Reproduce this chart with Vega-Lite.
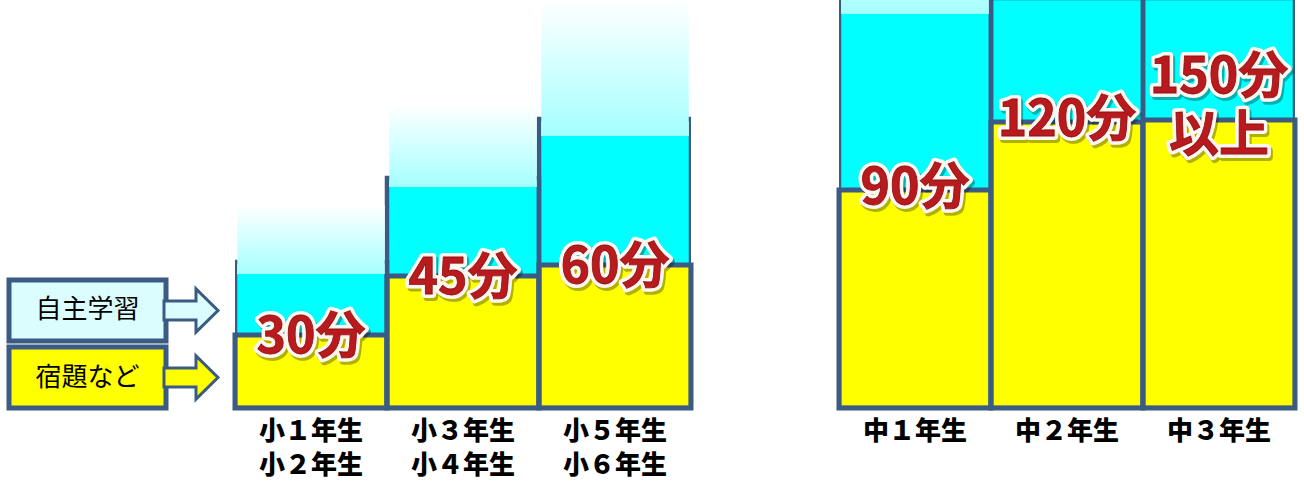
{
  "$schema": "https://vega.github.io/schema/vega-lite/v6.json",
  "padding": {"left": 6, "top": 0, "right": 0, "bottom": 0},
  "background": "#ffffff",
  "config": {"view": {"stroke": null}, "font": "Noto Sans CJK JP"},
  "datasets": {
    "bars": [
      {"group": "小学生", "grade": "小１年生\n小２年生", "homework": 73, "self": 134, "fadeTop": 203, "frameTop": 146, "label": "30分"},
      {"group": "小学生", "grade": "小３年生\n小４年生", "homework": 132, "self": 221, "fadeTop": 303, "frameTop": 230, "label": "45分"},
      {"group": "小学生", "grade": "小５年生\n小６年生", "homework": 143, "self": 272, "fadeTop": 408, "frameTop": 289, "label": "60分"},
      {"group": "中学生", "grade": "中１年生", "homework": 218, "self": 394, "fadeTop": 484, "frameTop": 410, "label": "90分"},
      {"group": "中学生", "grade": "中２年生", "homework": 286, "self": 410, "fadeTop": 410, "frameTop": 410, "label": "120分"},
      {"group": "中学生", "grade": "中３年生", "homework": 288, "self": 410, "fadeTop": 410, "frameTop": 410, "label": "150分\n以上"}
    ],
    "legend": [{"item": "自主学習"}, {"item": "宿題など"}]
  },
  "spacing": 69,
  "bounds": "flush",
  "resolve": {"scale": {"x": "independent", "y": "independent", "color": "independent"}},
  "hconcat": [
    {
      "width": 157,
      "height": 408,
      "data": {"name": "legend"},
      "encoding": {
        "y": {"field": "item", "type": "nominal", "sort": null, "scale": {"range": [280, 408], "paddingInner": 0.09, "paddingOuter": 0}, "axis": null}
      },
      "layer": [
        {
          "mark": {"type": "rect", "stroke": "#3b5b84", "strokeWidth": 5},
          "encoding": {"color": {"field": "item", "type": "nominal", "sort": null, "scale": {"domain": ["自主学習", "宿題など"], "range": ["#dcfdfd", "#ffff00"]}, "legend": null}}
        },
        {
          "mark": {"type": "point", "shape": "M-1,-0.35L0.185,-0.35L0.185,-0.8L1,0L0.185,0.8L0.185,0.35L-1,0.35Z", "size": 2916, "filled": true, "opacity": 1, "xOffset": 103.5, "stroke": "#3b5b84", "strokeWidth": 3},
          "encoding": {"color": {"field": "item", "type": "nominal", "sort": null, "scale": {"domain": ["自主学習", "宿題など"], "range": ["#eefefe", "#ffff00"]}, "legend": null}}
        },
        {
          "mark": {"type": "text", "fontSize": 26, "color": "#000000", "baseline": "middle", "font": "Noto Sans CJK JP"},
          "encoding": {"text": {"field": "item"}}
        }
      ]
    },
    {
      "spacing": 148,
      "bounds": "flush",
      "resolve": {"scale": {"x": "independent", "y": "independent"}},
      "hconcat": [
        {
          "width": 456,
          "height": 408,
          "data": {"name": "bars"},
          "transform": [{"filter": "datum.group === '小学生'"}],
          "encoding": {
            "x": {"field": "grade", "type": "nominal", "sort": null, "scale": {"paddingInner": 0, "paddingOuter": 0},
              "axis": {"title": null, "domain": false, "ticks": false, "tickSize": 0, "labelAngle": 0, "labelFontSize": 26, "labelFontWeight": 900, "labelColor": "#000000", "labelPadding": 10, "labelLineHeight": 34, "labelFont": "Noto Sans CJK JP", "labelExpr": "split(datum.label, '\\n')"}}
          },
          "layer": [
            {"mark": {"type": "bar", "fill": "#00ffff"}, "encoding": {"y": {"field": "self", "type": "quantitative", "scale": {"domain": [0, 408], "nice": false}, "axis": null}, "y2": {"field": "homework"}}},
            {"mark": {"type": "bar", "fill": "#ffff00", "stroke": "#3b5b84", "strokeWidth": 5}, "encoding": {"y": {"field": "homework", "type": "quantitative"}}},
            {"mark": {"type": "bar", "fill": null, "fillOpacity": 0, "stroke": "#3b5b84", "strokeWidth": 4.5, "clip": true}, "encoding": {"y": {"field": "frameTop", "type": "quantitative"}}},
            {"mark": {"type": "bar", "clip": true, "width": {"band": 0.97}, "color": {"gradient": "linear", "x1": 0, "y1": 1, "x2": 0, "y2": 0, "stops": [{"offset": 0, "color": "#a4ffff"}, {"offset": 1, "color": "#ffffff"}]}}, "encoding": {"y": {"field": "fadeTop", "type": "quantitative"}, "y2": {"field": "self"}}},
            {"mark": {"type": "text", "fontSize": 50, "fontWeight": "bold", "lineBreak": "\n", "lineHeight": 59, "baseline": "middle", "dx": 2, "dy": 6, "fill": "#000000", "stroke": "#000000", "strokeWidth": 8, "strokeJoin": "round", "opacity": 0.3}, "encoding": {"y": {"field": "homework", "type": "quantitative"}, "text": {"field": "label"}}},
            {"mark": {"type": "text", "fontSize": 50, "fontWeight": "bold", "lineBreak": "\n", "lineHeight": 59, "baseline": "middle", "dy": 3, "fill": "#ffffff", "stroke": "#fff6f0", "strokeWidth": 8, "strokeJoin": "round"}, "encoding": {"y": {"field": "homework", "type": "quantitative"}, "text": {"field": "label"}}},
            {"mark": {"type": "text", "fontSize": 50, "fontWeight": "bold", "lineBreak": "\n", "lineHeight": 59, "baseline": "middle", "dy": 3, "fill": "#b81a1e", "stroke": "#8a0f12", "strokeWidth": 0.8}, "encoding": {"y": {"field": "homework", "type": "quantitative"}, "text": {"field": "label"}}}
          ]
        },
        {
          "width": 456,
          "height": 408,
          "data": {"name": "bars"},
          "transform": [{"filter": "datum.group === '中学生'"}],
          "encoding": {
            "x": {"field": "grade", "type": "nominal", "sort": null, "scale": {"paddingInner": 0, "paddingOuter": 0},
              "axis": {"title": null, "domain": false, "ticks": false, "tickSize": 0, "labelAngle": 0, "labelFontSize": 26, "labelFontWeight": 900, "labelColor": "#000000", "labelPadding": 10, "labelLineHeight": 34, "labelFont": "Noto Sans CJK JP", "labelExpr": "split(datum.label, '\\n')"}}
          },
          "layer": [
            {"mark": {"type": "bar", "fill": "#00ffff", "clip": true}, "encoding": {"y": {"field": "self", "type": "quantitative", "scale": {"domain": [0, 408], "nice": false}, "axis": null}, "y2": {"field": "homework"}}},
            {"mark": {"type": "bar", "fill": "#ffff00", "stroke": "#3b5b84", "strokeWidth": 5}, "encoding": {"y": {"field": "homework", "type": "quantitative"}}},
            {"mark": {"type": "bar", "fill": null, "fillOpacity": 0, "stroke": "#3b5b84", "strokeWidth": 4.5, "clip": true}, "encoding": {"y": {"field": "frameTop", "type": "quantitative"}}},
            {"mark": {"type": "bar", "clip": true, "width": {"band": 0.97}, "color": {"gradient": "linear", "x1": 0, "y1": 1, "x2": 0, "y2": 0, "stops": [{"offset": 0, "color": "#a4ffff"}, {"offset": 1, "color": "#ffffff"}]}}, "encoding": {"y": {"field": "fadeTop", "type": "quantitative"}, "y2": {"field": "self"}}},
            {
              "transform": [{"filter": "indexof(datum.label, '\\n') < 0"}],
              "layer": [
                {"mark": {"type": "text", "fontSize": 50, "fontWeight": "bold", "baseline": "middle", "dx": 2, "dy": 2, "fill": "#000000", "stroke": "#000000", "strokeWidth": 8, "strokeJoin": "round", "opacity": 0.3}, "encoding": {"y": {"field": "homework", "type": "quantitative"}, "text": {"field": "label"}}},
                {"mark": {"type": "text", "fontSize": 50, "fontWeight": "bold", "baseline": "middle", "dy": -1, "fill": "#ffffff", "stroke": "#fff6f0", "strokeWidth": 8, "strokeJoin": "round"}, "encoding": {"y": {"field": "homework", "type": "quantitative"}, "text": {"field": "label"}}},
                {"mark": {"type": "text", "fontSize": 50, "fontWeight": "bold", "baseline": "middle", "dy": -1, "fill": "#b81a1e", "stroke": "#8a0f12", "strokeWidth": 0.8}, "encoding": {"y": {"field": "homework", "type": "quantitative"}, "text": {"field": "label"}}}
              ]
            },
            {
              "transform": [{"filter": "indexof(datum.label, '\\n') >= 0"}],
              "layer": [
                {"mark": {"type": "text", "fontSize": 50, "fontWeight": "bold", "lineBreak": "\n", "lineHeight": 59, "baseline": "middle", "dx": 2, "dy": -39, "fill": "#000000", "stroke": "#000000", "strokeWidth": 8, "strokeJoin": "round", "opacity": 0.3}, "encoding": {"y": {"field": "homework", "type": "quantitative"}, "text": {"field": "label"}}},
                {"mark": {"type": "text", "fontSize": 50, "fontWeight": "bold", "lineBreak": "\n", "lineHeight": 59, "baseline": "middle", "dy": -42, "fill": "#ffffff", "stroke": "#fff6f0", "strokeWidth": 8, "strokeJoin": "round"}, "encoding": {"y": {"field": "homework", "type": "quantitative"}, "text": {"field": "label"}}},
                {"mark": {"type": "text", "fontSize": 50, "fontWeight": "bold", "lineBreak": "\n", "lineHeight": 59, "baseline": "middle", "dy": -42, "fill": "#b81a1e", "stroke": "#8a0f12", "strokeWidth": 0.8}, "encoding": {"y": {"field": "homework", "type": "quantitative"}, "text": {"field": "label"}}}
              ]
            }
          ]
        }
      ]
    }
  ]
}
